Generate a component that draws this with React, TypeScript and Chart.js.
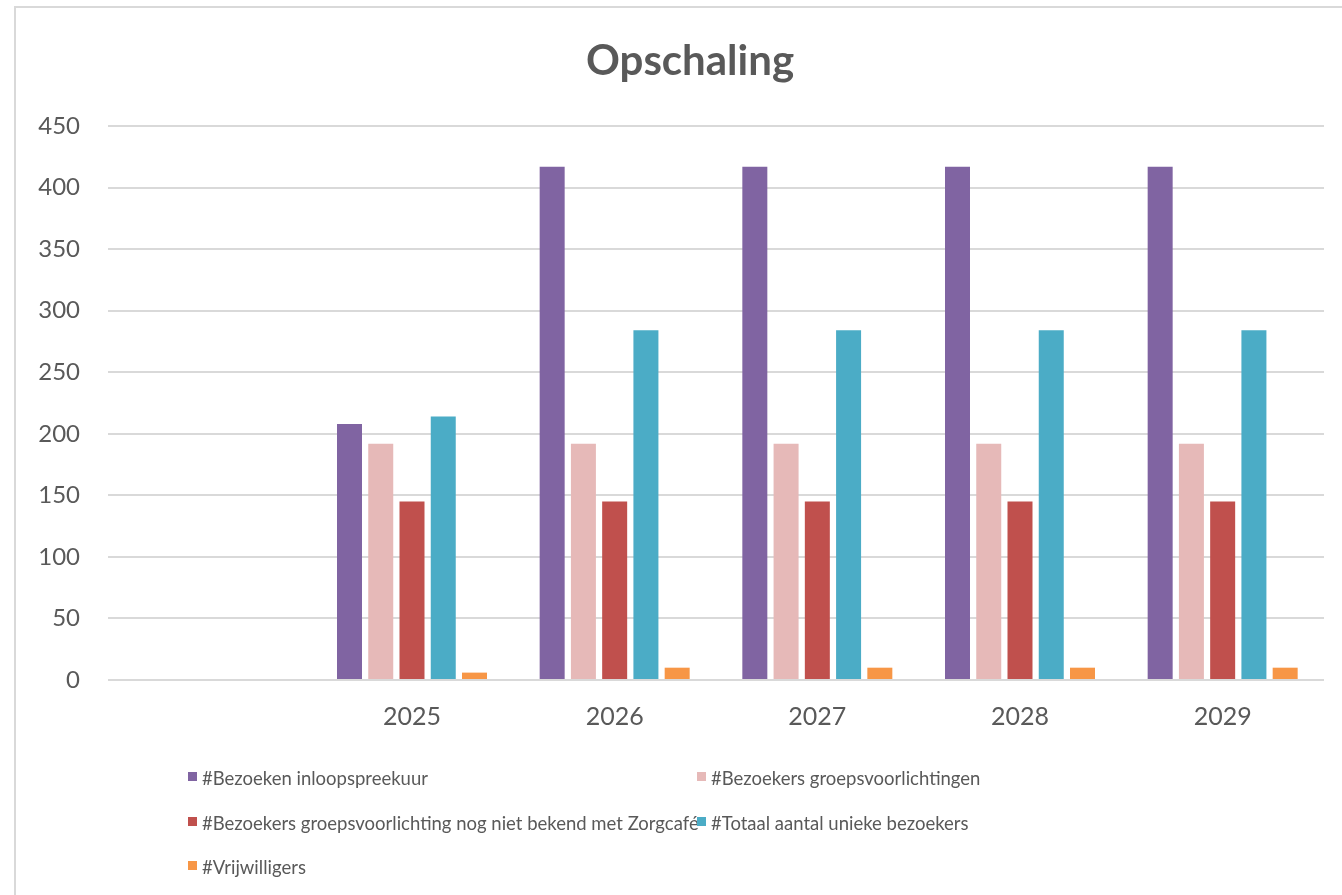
import React, { useEffect, useRef } from 'react';
import { Chart, registerables } from 'chart.js';

Chart.register(...registerables);

const chartTitle = 'Opschaling';
const categories = ['', '2025', '2026', '2027', '2028', '2029'];
const seriesLabels = [
  '#Bezoeken inloopspreekuur',
  '#Bezoekers groepsvoorlichtingen',
  '#Bezoekers groepsvoorlichting nog niet bekend met Zorgcafé',
  '#Totaal aantal unieke bezoekers',
  '#Vrijwilligers',
];
const seriesColors = ['#8064a2', '#e6b9b8', '#c0504d', '#4bacc6', '#f79646'];
const inloopspreekuur = [null, 208, 417, 417, 417, 417];
const groepsvoorlichtingen = [null, 192, 192, 192, 192, 192];
const nogNietBekend = [null, 145, 145, 145, 145, 145];
const totaalUniek = [null, 214, 284, 284, 284, 284];
const vrijwilligers = [null, 6, 10, 10, 10, 10];
const yMin = 0;
const yMax = 450;
const yStep = 50;

const FONT = 'Lato, "Open Sans", sans-serif';
const TEXT = '#595959';

const legendSlots = [
  { x: 188, y: 785 },
  { x: 697, y: 785 },
  { x: 188, y: 830 },
  { x: 697, y: 830 },
  { x: 188, y: 874 },
];

const decorPlugin = {
  id: 'decor',
  beforeDraw(chart: any) {
    const ctx = chart.ctx;
    ctx.save();
    ctx.fillStyle = '#ffffff';
    ctx.fillRect(0, 0, chart.width, chart.height);
    ctx.strokeStyle = '#d9d9d9';
    ctx.lineWidth = 2;
    ctx.beginPath();
    ctx.moveTo(15, chart.height);
    ctx.lineTo(15, 7);
    ctx.lineTo(chart.width, 7);
    ctx.stroke();
    ctx.restore();
  },
  afterDraw(chart: any) {
    const ctx = chart.ctx;
    ctx.save();
    // title
    ctx.fillStyle = TEXT;
    ctx.font = `bold 42px ${FONT}`;
    ctx.textAlign = 'center';
    ctx.textBaseline = 'alphabetic';
    ctx.fillText(chartTitle, 690, 75);
    // legend
    ctx.font = `18.5px ${FONT}`;
    ctx.textAlign = 'left';
    chart.data.datasets.forEach((ds: any, i: number) => {
      const slot = legendSlots[i];
      ctx.fillStyle = TEXT;
      ctx.fillText(ds.label, slot.x + 14, slot.y);
    });
    chart.data.datasets.forEach((ds: any, i: number) => {
      const slot = legendSlots[i];
      ctx.fillStyle = ds.backgroundColor;
      ctx.fillRect(slot.x, slot.y - 13, 9, 9);
    });
    ctx.restore();
  },
};

export default function App() {
  const canvasRef = useRef<HTMLCanvasElement | null>(null);

  useEffect(() => {
    if (!canvasRef.current) return;
    const seriesValues = [inloopspreekuur, groepsvoorlichtingen, nogNietBekend, totaalUniek, vrijwilligers];
    const chart = new Chart(canvasRef.current, {
      type: 'bar',
      data: {
        labels: categories,
        datasets: seriesValues.map((vals, i) => ({
          label: seriesLabels[i],
          data: vals,
          backgroundColor: seriesColors[i],
          borderWidth: 0,
          barPercentage: 0.8,
          categoryPercentage: 0.771,
        })),
      },
      options: {
        animation: false,
        responsive: true,
        maintainAspectRatio: false,
        layout: { padding: { top: 126, right: 18, bottom: 135, left: 0 } },
        plugins: {
          legend: { display: false },
          title: { display: false },
          tooltip: { enabled: false },
        },
        scales: {
          x: {
            grid: { display: false, drawTicks: false },
            border: { display: false },
            ticks: { color: TEXT, font: { family: FONT, size: 25 }, padding: 22, maxRotation: 0 },
            afterFit: (s: any) => { s.height = 80; },
          },
          y: {
            min: yMin,
            max: yMax,
            ticks: { stepSize: yStep, color: TEXT, font: { family: FONT, size: 24 }, padding: 28 },
            grid: { color: '#d9d9d9', lineWidth: 2, drawTicks: false },
            border: { display: false },
            afterFit: (s: any) => { s.width = 108; },
          },
        },
      },
      plugins: [decorPlugin],
    });
    return () => chart.destroy();
  }, []);

  return (
    <div style={{ position: 'absolute', left: 0, top: 0, width: 1342, height: 895, background: '#fff' }}>
      <canvas ref={canvasRef} />
    </div>
  );
}
